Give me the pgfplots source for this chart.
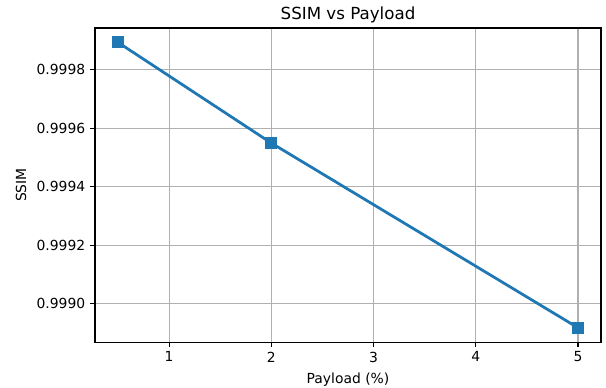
\documentclass[border=0pt]{standalone}
\usepackage{pgfplots}
\pgfplotsset{compat=1.18}
\usepackage{fontspec}
\setmainfont{DejaVu Sans}
\definecolor{mplblue}{HTML}{1F77B4}
\definecolor{gridgray}{HTML}{B0B0B0}
\begin{document}
\begin{tikzpicture}
\begin{axis}[
  scale only axis,
  width=364.3pt, height=226.1pt,
  xmin=0.275, xmax=5.225,
  ymin=0.998869, ymax=0.999942,
  xtick={1,2,3,4,5},
  ytick={0.9990,0.9992,0.9994,0.9996,0.9998},
  scaled y ticks=false,
  yticklabel style={/pgf/number format/fixed, /pgf/number format/precision=4, /pgf/number format/fixed zerofill},
  /pgf/number format/assume math mode=true,
  tick label style={font=\fontsize{10pt}{12pt}\selectfont},
  grid=major,
  major grid style={gridgray, line width=0.8pt},
  axis line style={black, line width=0.8pt},
  tick style={black, line width=0.8pt},
  tick align=outside,
  major tick length=3.5pt,
  xtick pos=bottom, ytick pos=left,
  xlabel={Payload (\%)},
  ylabel={SSIM},
  label style={font=\fontsize{10pt}{12pt}\selectfont},
  title={SSIM vs Payload},
  title style={font=\fontsize{12pt}{14pt}\selectfont, yshift=-5.6pt},
  xlabel style={yshift=-0.6pt},
  ylabel style={yshift=0.6pt},
]
\addplot[mplblue, line width=2pt, mark=square*, mark size=3.3pt, mark options={solid, fill=mplblue, draw=mplblue}]
  coordinates {(0.5,0.999893) (2,0.999549) (5,0.998918)};
\end{axis}
\pgfresetboundingbox
\path ([xshift=-68.4pt,yshift=-32.4pt]current axis.south west) rectangle ([xshift=3.6pt,yshift=20.2pt]current axis.north east);
\end{tikzpicture}
\end{document}
